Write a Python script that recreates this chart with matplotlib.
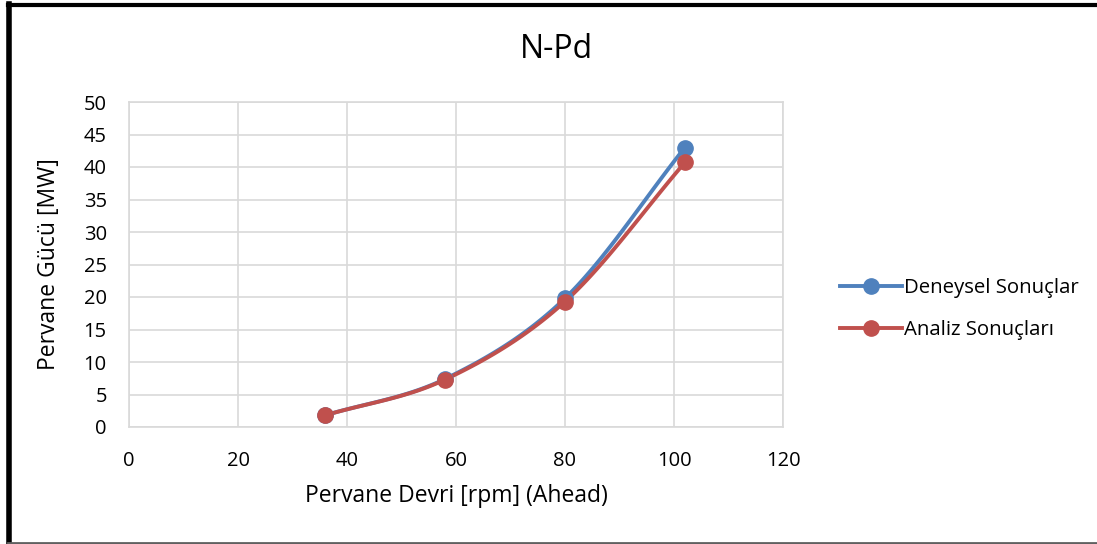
import numpy as np
import matplotlib
matplotlib.use("Agg")
import matplotlib.pyplot as plt
from matplotlib.lines import Line2D

plt.rcParams['font.family'] = ['Open Sans', 'DejaVu Sans']

rpm = [36, 58, 80, 102]
deneysel = [1.8, 7.4, 19.8, 43.0]
analiz = [1.8, 7.3, 19.3, 40.7]

x_ticks = [0, 20, 40, 60, 80, 100, 120]
y_ticks = [0, 5, 10, 15, 20, 25, 30, 35, 40, 45, 50]

blue = '#4f81bd'
red = '#c0504d'
grid_c = '#d9d9d9'


def smooth(xs, ys, n=40, tension=0.5):
    """Cardinal-spline curve through the given points."""
    xs = np.asarray(xs, float)
    ys = np.asarray(ys, float)
    px = np.concatenate([[2 * xs[0] - xs[1]], xs, [2 * xs[-1] - xs[-2]]])
    py = np.concatenate([[2 * ys[0] - ys[1]], ys, [2 * ys[-1] - ys[-2]]])
    ox, oy = [], []
    t = np.linspace(0, 1, n)
    for i in range(1, len(px) - 2):
        m0x = tension * (px[i + 1] - px[i - 1])
        m1x = tension * (px[i + 2] - px[i])
        m0y = tension * (py[i + 1] - py[i - 1])
        m1y = tension * (py[i + 2] - py[i])
        h00 = 2 * t**3 - 3 * t**2 + 1
        h10 = t**3 - 2 * t**2 + t
        h01 = -2 * t**3 + 3 * t**2
        h11 = t**3 - t**2
        ox.extend(h00 * px[i] + h10 * m0x + h01 * px[i + 1] + h11 * m1x)
        oy.extend(h00 * py[i] + h10 * m0y + h01 * py[i + 1] + h11 * m1y)
    return np.array(ox), np.array(oy)


fig = plt.figure(figsize=(10.97, 5.44), dpi=100)
ax = fig.add_axes([129 / 1097, 1 - 427 / 544, (783 - 129) / 1097, (427 - 102) / 544])

for ys, c in [(deneysel, blue), (analiz, red)]:
    sx, sy = smooth(rpm, ys)
    ax.plot(sx, sy, color=c, lw=2.8, solid_capstyle='round', zorder=3)
    ax.plot(rpm, ys, 'o', color=c, ms=11, zorder=4)

ax.set_xlim(0, 120)
ax.set_ylim(0, 50)
ax.set_xticks(x_ticks)
ax.set_yticks(y_ticks)
ax.tick_params(length=0, labelsize=14.5, colors='#000000')
ax.tick_params(axis='x', pad=17)
ax.tick_params(axis='y', pad=16)
ax.grid(True, color=grid_c, lw=1.2)
ax.set_axisbelow(True)
for s in ax.spines.values():
    s.set_color(grid_c)
    s.set_linewidth(1.2)

ax.set_xlabel('Pervane Devri [rpm] (Ahead)', fontsize=16.5, labelpad=10)
ax.set_ylabel('Pervane Gücü [MW]', fontsize=16.5, labelpad=16)
fig.text(556 / 1097, 1 - 50 / 544, 'N-Pd', fontsize=23, ha='center', va='center')

handles = [
    Line2D([], [], color=blue, lw=2.8, marker='o', ms=11),
    Line2D([], [], color=red, lw=2.8, marker='o', ms=11),
]
fig.legend(handles, ['Deneysel Sonuçlar', 'Analiz Sonuçları'],
           loc='center left', bbox_to_anchor=(822 / 1097, 1 - 309 / 544),
           frameon=False, fontsize=14.7, handlelength=3.0, handletextpad=0.1,
           labelspacing=1.05)

# outer frame
fig.add_artist(Line2D([8 / 1097, 1], [1 - 5 / 544, 1 - 5 / 544],
                      transform=fig.transFigure, color='black', lw=3))
fig.add_artist(Line2D([8.5 / 1097, 8.5 / 1097], [0, 1 - 4 / 544],
                      transform=fig.transFigure, color='black', lw=4))
fig.add_artist(Line2D([8 / 1097, 1], [1.5 / 544, 1.5 / 544],
                      transform=fig.transFigure, color='#606060', lw=2))

fig.savefig('out.png', dpi=100)
